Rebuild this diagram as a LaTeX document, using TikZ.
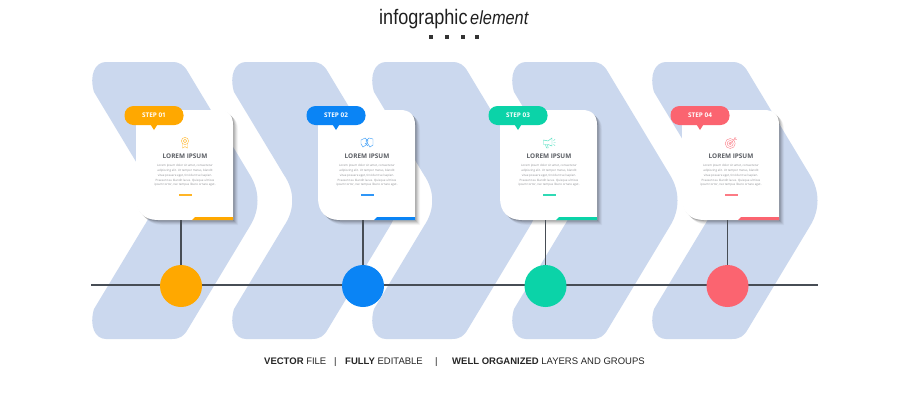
\documentclass[tikz,border=0pt]{standalone}
\usepackage{fontspec}
\setmainfont{Open Sans}
\newfontfamily\titlefont[FakeStretch=0.86]{Liberation Sans}
\newfontfamily\footfont{Liberation Sans}
\definecolor{chev}{HTML}{CBD8EE}
\definecolor{linec}{HTML}{474D55}
\definecolor{greytxt}{HTML}{5A5D63}
\definecolor{bodytxt}{HTML}{8A8C90}
\definecolor{cOne}{HTML}{FFA800}
\definecolor{cTwo}{HTML}{0A84F5}
\definecolor{cThree}{HTML}{0BD3A8}
\definecolor{cFour}{HTML}{FB6470}
\tikzset{
  chevron/.style={fill=chev},
  tagbox/.style={rectangle,rounded corners=9pt,minimum width=59pt,minimum height=19pt,inner sep=0pt,text=white,font=\fontsize{6.4}{8}\selectfont\bfseries},
  headtxt/.style={text=greytxt,inner sep=0pt,font=\fontsize{6.4}{8}\selectfont\bfseries},
  bodyblock/.style={text=bodytxt,inner sep=0pt,align=center,font=\fontsize{2.95}{4.75}\selectfont},
  footbold/.style={anchor=base west,inner sep=0pt,text=black!85,font=\footfont\fontsize{9.5}{12}\selectfont},
  titletxt/.style={anchor=base west,inner sep=0pt,text=black!88},
  dotnode/.style={circle,minimum size=42pt,inner sep=0pt},
  timeline/.style={draw=linec,line width=1.4pt},
  stem/.style={draw=linec,line width=1.1pt},
  iconline/.style={line width=.45pt,fill=none},
  squaredot/.style={fill=black!80,minimum size=3.6pt,inner sep=0pt,rectangle}
}
\newcommand{\cardshape}{(0,0) -- (82,0) .. controls (92,0) and (97,5) .. (97,15) -- (97,110) -- (22,110) .. controls (8,110) and (0,102) .. (0,88) -- cycle}
\newcommand{\chevronat}[1]{%
  \begin{scope}[shift={(#1,0)}]
    \fill[chevron] (106,62) -- (172,62) .. controls (180,62) and (184,65) .. (188,72)
      -- (250,175) .. controls (260,191) and (260,210) .. (250,226)
      -- (188,329) .. controls (184,336) and (180,339) .. (172,339)
      -- (106,339) .. controls (95,339) and (89,326) .. (94,309)
      -- (144,226) .. controls (155,210) and (155,191) .. (144,175)
      -- (94,92) .. controls (89,75) and (95,62) .. (106,62) -- cycle;
  \end{scope}}
% #1 index, #2 card left, #3 colour, #4 step label, #5 icon drawing
\newcommand{\stepcard}[5]{%
  \begin{scope}[shift={(#2,110)}]
    \foreach \i/\o in {5/.04,4/.06,3/.08,2/.10,1/.13}{
      \fill[black,opacity=\o,shift={(\i,\i)}] \cardshape;
    }
    \fill[white] \cardshape;
    \fill[#3] (59,107) -- (97,107) -- (97,110) -- (56,110) -- cycle;
    \fill[#3!85!white] (43,84.4) -- (56,84.4) -- (56,85.8) -- (43,85.8) -- cycle;
    \node[tagbox,fill=#3] (tag#1) at (18,5.5) {#4};
    \fill[#3] (14.5,14.5) -- (21.5,14.5) -- (18,20) -- cycle;
    \begin{scope}[shift={(49,33)},#3!75!white,draw=#3!75!white]
      #5
    \end{scope}
    \node[headtxt] (head#1) at (49,46.5) {LOREM IPSUM};
    \node[bodyblock] (body#1) at (49,65.5) {Lorem ipsum dolor sit amet, consectetur\\adipiscing elit. Ut tempor metus, blandit\\vitae posuere eget, tincidunt vel sapien.\\Praesent eu blandit lacus. Quisque ultrices\\ipsum tortor, nec tempus libero ornare eget.};
    \coordinate (cardfoot#1) at (45,110);
  \end{scope}}
\begin{document}
\begin{tikzpicture}[x=1pt,y=-1pt]
\useasboundingbox (0,0) rectangle (909,400);
\fill[white] (0,0) rectangle (909,400);
% title
\node[titletxt,font=\titlefont\fontsize{21}{24}\selectfont] (title1) at (379,24) {infographic};
\node[titletxt,font=\titlefont\itshape\fontsize{19}{24}\selectfont] (title2) at (470,24) {element};
\node[squaredot] (sq1) at (431,37) {};
\node[squaredot] (sq2) at (447,37) {};
\node[squaredot] (sq3) at (463,37) {};
\node[squaredot] (sq4) at (477,37) {};
% chevrons
\chevronat{0}
\chevronat{140}
\chevronat{280}
\chevronat{420}
\chevronat{560}
% timeline
\coordinate (tlstart) at (91,285);
\coordinate (tlend) at (818,285);
\draw[timeline] (tlstart) -- (tlend);
% cards
\stepcard{1}{136}{cOne}{STEP 01}{
  \draw[iconline] (0,-2) circle (3.6);
  \draw[iconline] (0,-2) circle (1.8);
  \draw[iconline] (-2.5,1) -- (-2.5,5) -- (0,3.6) -- (2.5,5) -- (2.5,1);
}
\stepcard{2}{318}{cTwo}{STEP 02}{
  \draw[iconline] (-6,-3) -- (-2,-5) -- (1,-2) -- (-1,2) -- (-4,4) -- (-6,1) -- cycle;
  \draw[iconline] (6,-4) -- (2,-5) -- (-1,-2) -- (1,1) -- (3,4) -- (6,2) -- cycle;
  \draw[iconline] (-2,0) -- (1,3);
}
\stepcard{3}{500}{cThree}{STEP 03}{
  \draw[iconline] (-5.5,-3) -- (-1,-2) -- (3,-5) -- (3,3) -- (-1,1.5) -- (-5.5,1.5) -- cycle;
  \draw[iconline] (-3.5,1.5) -- (-2.5,5) -- (-0.8,5) -- (-1.5,1.6);
  \draw[iconline] (4.5,-2.5) -- (6,-3.5) (4.5,-.5) -- (6.5,-.5) (4.5,1.5) -- (6,2.5);
}
\stepcard{4}{682}{cFour}{STEP 04}{
  \draw[iconline] (-.8,.5) circle (5);
  \draw[iconline] (-.8,.5) circle (3);
  \draw[iconline] (-.8,.5) circle (1.2);
  \draw[iconline] (-.8,.5) -- (5,-5.5);
  \draw[iconline] (3.5,-5.5) -- (3.8,-3.8) -- (5.8,-3.6);
}
% stems and dots
\node[dotnode,fill=cOne] (dot1) at (181,286) {};
\node[dotnode,fill=cTwo] (dot2) at (363,286) {};
\node[dotnode,fill=cThree] (dot3) at (545.5,286) {};
\node[dotnode,fill=cFour] (dot4) at (727.5,286) {};
\draw[stem] (dot1.north |- cardfoot1) -- (dot1.north);
\draw[stem] (dot2.north |- cardfoot2) -- (dot2.north);
\draw[stem] (dot3.north |- cardfoot3) -- (dot3.north);
\draw[stem] (dot4.north |- cardfoot4) -- (dot4.north);
% footer
\node[footbold] (f1) at (264,364) {\textbf{VECTOR} FILE};
\node[footbold] (f2) at (334,364) {|};
\node[footbold] (f3) at (345,364) {\textbf{FULLY} EDITABLE};
\node[footbold] (f4) at (435,364) {|};
\node[footbold] (f5) at (452,364) {\textbf{WELL ORGANIZED} LAYERS AND GROUPS};
\end{tikzpicture}
\end{document}
